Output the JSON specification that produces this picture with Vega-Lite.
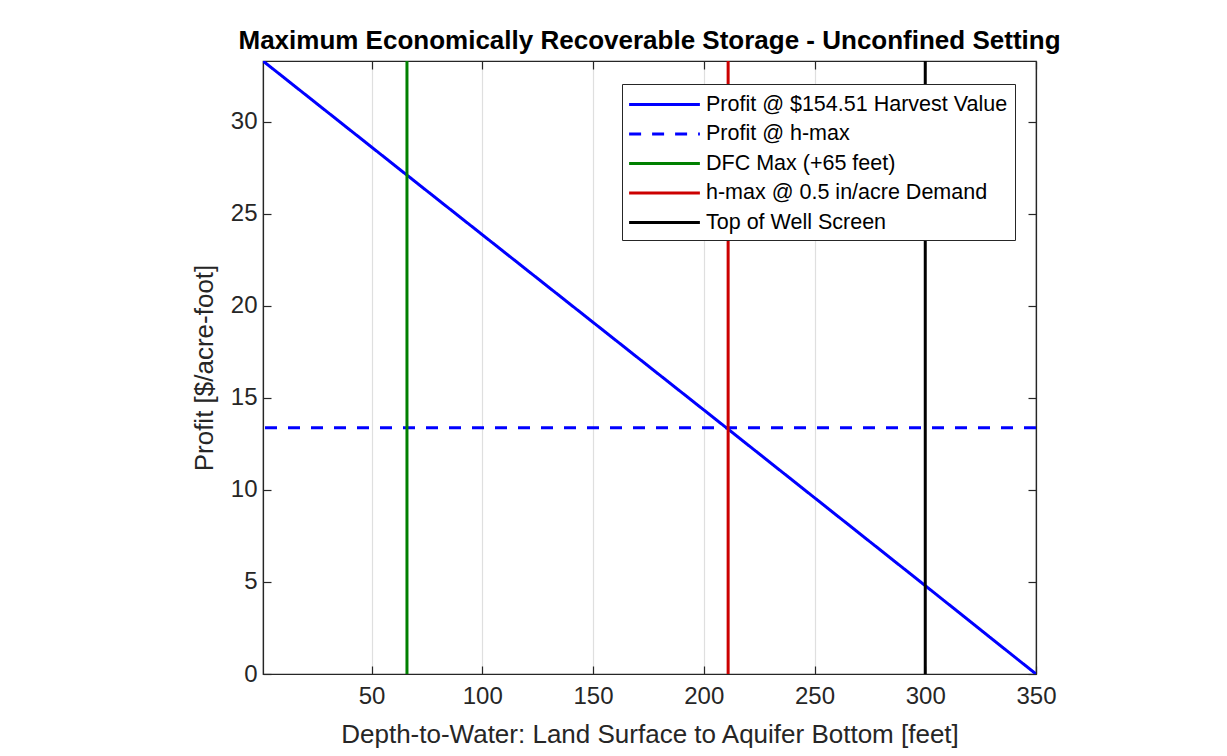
{
  "$schema": "https://vega.github.io/schema/vega-lite/v6.json",
  "autosize": "none",
  "width": 773,
  "height": 613,
  "padding": {"left": 263, "top": 61, "right": 191, "bottom": 82},
  "background": "white",
  "title": {
    "text": "Maximum Economically Recoverable Storage - Unconfined Setting",
    "font": "Liberation Sans",
    "fontSize": 26,
    "fontWeight": "bold",
    "color": "#000000",
    "anchor": "middle",
    "offset": 6
  },
  "config": {
    "view": {"stroke": "#262626", "strokeWidth": 1.2},
    "axis": {
      "labelFont": "Liberation Sans",
      "titleFont": "Liberation Sans",
      "labelFontSize": 24,
      "titleFontSize": 26,
      "labelColor": "#262626",
      "titleColor": "#262626",
      "titleFontWeight": "normal",
      "domainColor": "#262626",
      "domainWidth": 1.2,
      "tickColor": "#262626",
      "tickWidth": 1.2,
      "tickSize": -8,
      "labelFlush": false,
      "grid": false
    },
    "legend": {
      "labelFont": "Liberation Sans",
      "labelFontSize": 21.5,
      "labelColor": "#000000",
      "labelLimit": 500
    }
  },
  "data": {
    "values": [
      {"series": "Profit @ $154.51 Harvest Value", "kind": "line", "x": 1, "y": 33.3},
      {"series": "Profit @ $154.51 Harvest Value", "kind": "line", "x": 66, "y": 27.1},
      {"series": "Profit @ $154.51 Harvest Value", "kind": "line", "x": 211, "y": 13.3},
      {"series": "Profit @ $154.51 Harvest Value", "kind": "line", "x": 300, "y": 4.8},
      {"series": "Profit @ $154.51 Harvest Value", "kind": "line", "x": 350, "y": 0},
      {"series": "Profit @ h-max", "kind": "hline", "y": 13.38},
      {"series": "DFC Max (+65 feet)", "kind": "vline", "x": 66},
      {"series": "h-max @ 0.5 in/acre Demand", "kind": "vline", "x": 211},
      {"series": "Top of Well Screen", "kind": "vline", "x": 300}
    ]
  },
  "encoding": {
    "color": {
      "field": "series",
      "type": "nominal",
      "scale": {
        "domain": ["Profit @ $154.51 Harvest Value", "Profit @ h-max", "DFC Max (+65 feet)", "h-max @ 0.5 in/acre Demand", "Top of Well Screen"],
        "range": ["#0000ff", "#0000ff", "#008000", "#cc0000", "#000000"]
      },
      "legend": {
        "title": null,
        "orient": "none",
        "legendX": 359,
        "legendY": 23,
        "symbolType": "M-2.95,0H2.95",
        "symbolSize": 576,
        "symbolStrokeWidth": 3,
        "symbolOffset": 22,
        "labelOffset": 28,
        "rowPadding": 5.5,
        "padding": 7,
        "fillColor": "white",
        "strokeColor": "#262626"
      }
    },
    "strokeDash": {
      "field": "series",
      "type": "nominal",
      "scale": {
        "domain": ["Profit @ $154.51 Harvest Value", "Profit @ h-max", "DFC Max (+65 feet)", "h-max @ 0.5 in/acre Demand", "Top of Well Screen"],
        "range": [[1, 0], [12, 11], [1, 0], [1, 0], [1, 0]]
      },
      "legend": null
    }
  },
  "layer": [
    {
      "transform": [{"filter": "datum.kind === 'line'"}],
      "mark": {"type": "line", "strokeWidth": 3, "clip": true},
      "encoding": {
        "x": {
          "field": "x", "type": "quantitative",
          "scale": {"domain": [1, 350], "nice": false, "zero": false},
          "axis": {
            "orient": "bottom",
            "values": [50, 100, 150, 200, 250, 300, 350],
            "title": "Depth-to-Water: Land Surface to Aquifer Bottom [feet]",
            "grid": true,
            "gridColor": "#dfdfdf",
            "gridWidth": 1.2,
            "labelPadding": 18,
            "titlePadding": 13
          }
        },
        "y": {
          "field": "y", "type": "quantitative",
          "scale": {"domain": [0, 33.3], "nice": false},
          "axis": {
            "orient": "left",
            "values": [0, 5, 10, 15, 20, 25, 30],
            "title": "Profit [$/acre-foot]",
            "labelPadding": 14,
            "titlePadding": 13
          }
        }
      }
    },
    {
      "transform": [{"filter": "datum.kind === 'hline'"}],
      "mark": {"type": "rule", "strokeWidth": 3},
      "encoding": {
        "y": {
          "field": "y", "type": "quantitative",
          "axis": {"orient": "right", "values": [0, 5, 10, 15, 20, 25, 30], "labels": false, "title": null}
        }
      }
    },
    {
      "transform": [{"filter": "datum.kind === 'vline'"}],
      "mark": {"type": "rule", "strokeWidth": 3},
      "encoding": {
        "x": {
          "field": "x", "type": "quantitative",
          "axis": {"orient": "top", "values": [50, 100, 150, 200, 250, 300, 350], "labels": false, "title": null}
        }
      }
    }
  ],
  "resolve": {"axis": {"x": "independent", "y": "independent"}}
}
